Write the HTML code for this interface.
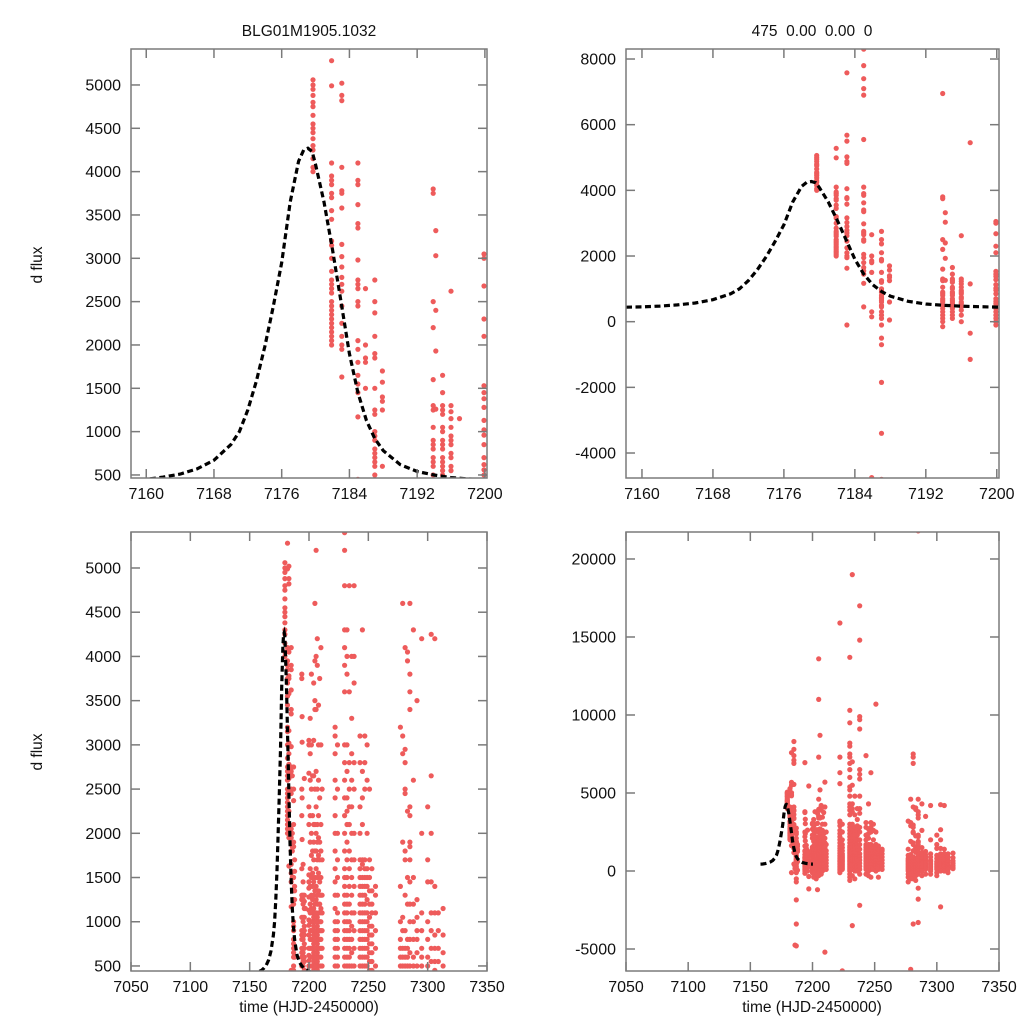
<!DOCTYPE html>
<html><head><meta charset="utf-8">
<style>
html,body{margin:0;padding:0;background:#fff;width:1024px;height:1024px;overflow:hidden;}
svg{display:block;font-family:"Liberation Sans",sans-serif;}
</style></head>
<body>
<svg id="chart" width="1024" height="1024" viewBox="0 0 1024 1024" xmlns="http://www.w3.org/2000/svg">
<rect width="1024" height="1024" fill="#fff"/>
<text x="309" y="36" text-anchor="middle" font-size="15.5" fill="#111">BLG01M1905.1032</text>
<text x="812" y="36" text-anchor="middle" font-size="15.5" fill="#111" xml:space="preserve">475  0.00  0.00  0</text>
<text transform="translate(42,265) rotate(-90)" text-anchor="middle" font-size="15.5" fill="#111">d flux</text>
<text transform="translate(42,752) rotate(-90)" text-anchor="middle" font-size="15.5" fill="#111">d flux</text>
<text x="309" y="1012" text-anchor="middle" font-size="15.5" fill="#111">time (HJD-2450000)</text>
<text x="812" y="1012" text-anchor="middle" font-size="15.5" fill="#111">time (HJD-2450000)</text>
</svg>
<script>
// model curve
const modelTimes = [7158.2,7160,7162,7164,7166,7168,7170,7171,7172,7173,7174,7175,7176,7177,7178,7178.6,7179.1,7179.6,7180,7181,7182,7183,7184,7185,7186,7187,7188,7190,7192,7194,7196,7198,7200,7200.3];
const modelFlux  = [440,450,475,510,570,670,850,1000,1250,1580,1980,2440,2950,3650,4120,4250,4270,4230,4080,3650,3100,2500,1900,1450,1130,920,780,620,540,500,470,455,445,440];

// observations: night times and fluxes per night
const obsTimes = [7179.7,7181.9,7183.1,7185.0,7185.9,7187.0,7187.9,7193.9,7194.2,7195.0,7196.0,7197.0,7199.9,
7201,7202,7203,7204,7205,7206,7207,7208,7209,7210,7211,7222,7224,7230,7232,7234,7236,7238,7243,7245,7247,7249,7251,7253,7256,
7277,7279,7281,7283,7285,7288,7291,7295,7300,7303,7306,7309,7313];
const obsFlux = [
[5060,5000,4950,4880,4800,4750,4650,4550,4500,4450,4380,4300,4250,4150,4050,4000],
[5280,4990,4100,3950,3900,3850,3750,3700,3550,3450,3200,3150,3000,2850,2750,2700,2650,2600,2500,2450,2400,2350,2300,2250,2200,2150,2100,2050,2000],
[7580,5680,5500,5020,4880,4820,4050,3780,3750,3580,3160,3020,2900,2780,2700,2620,2450,2250,2100,2000,1950,1630,-100],
[8300,7800,7400,7100,6900,5550,4100,3900,3850,3620,3400,3350,2980,2750,2700,2650,2500,2450,2050,1950,1800,1650,1550,1450,1170,450],
[2650,2000,1850,1800,1500,300,150,-4750],
[2750,2500,2370,2100,1900,1850,1500,1250,1200,1000,950,900,800,750,700,650,600,500,450,300,200,100,-100,-500,-700,-1850,-3400,-4800],
[1700,1570,1400,1350,1250,600,50],
[6950,3800,3750,2500,2200,1600,1300,1250,1050,900,850,800,700,650,600,500,400,300,200,100,0,-150],
[3320,3030,2400,1930,1260],
[1650,1450,1300,1250,1200,1050,1000,900,850,800,700,650,600,550,500,400,300,200,100],
[2620,1300,1230,1150,1050,950,900,850,750,700,600,550,450,350,200,0],
[5450,1150,-350,-1150],
[3050,3000,2680,2300,2100,1530,1450,1380,1280,1130,1020,960,850,700,620,560,500,400,300,200,100,0,-100],
[3300,2900,2600,2200,1900,1600,1400,1200,1100,1000,900,800,700,600,500,400,300,200,100,0,-200,-400],
[3800,3000,2500,2000,1750,1500,1300,1150,1000,900,800,700,600,500,400,300,200,100,0,-100,-300],
[2650,2200,1800,1550,1400,1250,1100,1000,900,800,700,600,500,400,300,200,100,-100,-500],
[3700,3050,2650,2100,1900,1700,1450,1300,1150,1050,950,850,750,650,550,450,350,250,150,50,-200,-1200],
[13600,11000,7300,4600,3950,3500,3400,2500,2100,1800,1500,1350,1200,1100,1000,900,800,700,600,500,400,300,200,0,-300],
[8700,5200,4000,3400,2700,2300,2000,1800,1600,1400,1250,1100,1000,900,800,700,600,500,400,300,200,100,-100],
[4200,3900,2500,2100,1900,1700,1500,1300,1200,1050,950,850,750,650,550,450,350,250,100,-200],
[3450,3000,2600,2200,1950,1750,1550,1350,1200,1100,1000,900,800,700,600,500,400,300,200,0],
[3750,2400,1900,1700,1450,1300,1200,1100,1000,900,800,700,600,500,400,300,200,100],
[5700,4100,3000,2100,1800,1500,1300,1150,1000,900,800,700,600,500,400,300,200,-5200],
[2500,1700,1300,1100,900,700,500,300,100],
[15900,7300,6300,5600,3200,3100,2900,2600,2400,2200,2000,1800,1600,1450,1300,1150,1000,900,800,700,600,500,400,300,200,100,0,-100],
[3000,2500,2000,1700,1500,1300,1100,1000,900,800,700,600,500,400,300,200,100,-6400],
[13700,10300,9500,8200,8000,7500,7300,6900,6500,6000,5400,5200,4800,4300,4100,3900,3600,3000,2800,2600,2400,2200,2000,1800,1600,1500,1400,1300,1200,1100,1000,900,800,700,600,500,400,300,200,100,0,-200,-400,-600],
[19000,7000,5500,4300,4000,3800,3000,2700,2400,2250,2100,1900,1700,1500,1300,1200,1100,1000,900,800,700,600,500,400,300,100,-300,-3500],
[4800,3600,2800,2500,2300,2100,1800,1600,1400,1200,1000,900,800,700,600,500,400,200,0,-500],
[4000,3300,2900,2600,2300,2000,1700,1500,1300,1100,950,800,650,500,350,200,0],
[17000,14800,9900,9700,9100,6500,6200,5900,4800,4000,3700,2800,2500,2000,1700,1400,1100,900,700,500,300,100,-200,-2200],
[7400,3100,2800,2300,2000,1700,1600,1500,1400,1300,1200,1100,1000,900,800,700,600,500,400,300,200,100,-200],
[4300,2700,2400,2100,1700,1650,1500,1400,1300,1200,1100,1000,900,800,700,600,500,400,300,200,0,-300],
[6300,3100,2800,2500,1700,1600,1500,1400,1300,1200,1100,1000,900,800,700,600,500,400,300,200,100,-400],
[3000,2600,2000,1600,1500,1400,1250,1100,1000,900,800,700,600,500,400,300,200,100],
[10700,2500,1700,1500,1350,1200,1050,950,850,750,650,550,450,350,250,150,0],
[1600,1350,1200,1100,950,850,750,650,550,450,350,250,100,-400],
[1400,1300,1100,900,700,500,300,100],
[3200,1400,1000,800,700,600,500,400,300,200,100,0,-200,-400,-700],
[4600,3100,2900,1900,1050,900,700,600,500,400,300,200,100,0,-200,-500,-6300],
[7500,7300,6900,4100,2950,2800,2500,2450,1800,1700,1300,900,700,600,500,400,300,200,100,0,-100,-300,-500,-3400],
[4050,3950,2250,1500,1200,800,700,600,500,400,300,200,100,0,-300,-600],
[4600,3800,3600,3400,2300,2200,1900,1850,1700,1450,1200,1000,800,650,500,400,300,200,100,0,-200,-1100,-1800,-3300,21800],
[4300,2600,1500,1200,1000,800,600,500,400,300,200,100,0,-300],
[3500,1250,1050,900,800,650,500,400,300,200,100,-200],
[4200,2000,1100,900,700,600,500,400,300,200,100,0,-200],
[2300,1700,1450,1000,800,600,500,400,300,200,100,-100,-300],
[4250,2650,2000,1450,1100,900,700,550,400,300,200,0,-2300],
[4200,1400,1100,850,700,550,450,350,250,150,0],
[1100,900,700,550,400,300,200,100,-100],
[1150,850,650,500,350,250,150]
];

// tick labels
const xTicksZoom = [7160,7168,7176,7184,7192,7200];
const xTicksFull = [7050,7100,7150,7200,7250,7300,7350];
const yTicksP1 = [500,1000,1500,2000,2500,3000,3500,4000,4500,5000];
const yTicksP2 = [-4000,-2000,0,2000,4000,6000,8000];
const yTicksP3 = [500,1000,1500,2000,2500,3000,3500,4000,4500,5000];
const yTicksP4 = [-5000,0,5000,10000,15000,20000];

const NS = "http://www.w3.org/2000/svg";
const svg = document.getElementById('chart');
function mk(tag, attrs, parent){
  const e = document.createElementNS(NS, tag);
  for (const k in attrs) e.setAttribute(k, attrs[k]);
  (parent||svg).appendChild(e);
  return e;
}
const panels = [
  {id:'p1', L:131,R:487,T:49,B:478, x0:7158.2,x1:7200.25, y0:465,y1:5415, xt:xTicksZoom, yt:yTicksP1},
  {id:'p2', L:626,R:999,T:49,B:478, x0:7158.2,x1:7200.25, y0:-4761,y1:8305, xt:xTicksZoom, yt:yTicksP2},
  {id:'p3', L:131,R:487,T:532,B:971, x0:7050,x1:7350, y0:443,y1:5407, xt:xTicksFull, yt:yTicksP3},
  {id:'p4', L:626,R:999,T:532,B:971, x0:7050,x1:7350, y0:-6410,y1:21730, xt:xTicksFull, yt:yTicksP4}
];
const defs = mk('defs', {});
panels.forEach(function(p){
  const sx = v => p.L + (v - p.x0) / (p.x1 - p.x0) * (p.R - p.L);
  const sy = v => p.B - (v - p.y0) / (p.y1 - p.y0) * (p.B - p.T);
  const cp = mk('clipPath', {id:'clip-'+p.id}, defs);
  mk('rect', {x:p.L, y:p.T, width:p.R-p.L, height:p.B-p.T}, cp);
  const g = mk('g', {});
  
  
  const pg = mk('g', {'clip-path':'url(#clip-'+p.id+')', fill:'#ee5b5b'}, g);
  
  
  obsTimes.forEach(function(t, i){
    obsFlux[i].forEach(function(f){
      const c = mk('circle', {cx:sx(t).toFixed(1), cy:sy(f).toFixed(1), r:2.6}, pg);
      
      
    });
  });
  let d = '';
  modelTimes.forEach(function(t, i){ d += (i ? 'L' : 'M') + sx(t).toFixed(1) + ' ' + sy(modelFlux[i]).toFixed(1); });
  const ln = mk('path', {d:d, fill:'none', stroke:'#000', 'stroke-width':3.2, 'stroke-dasharray':'6 3.5', 'clip-path':'url(#clip-'+p.id+')'}, g);
  
  
  const fr = mk('rect', {x:p.L, y:p.T, width:p.R-p.L, height:p.B-p.T, fill:'none', stroke:'#7a7a7a', 'stroke-width':1.5}, g);
  
  
  p.xt.forEach(function(v){
    const x = sx(v);
    mk('line', {x1:x, x2:x, y1:p.B, y2:p.B-9, stroke:'#7a7a7a', 'stroke-width':1.5}, g);
    mk('line', {x1:x, x2:x, y1:p.T, y2:p.T+9, stroke:'#7a7a7a', 'stroke-width':1.5}, g);
    const tx = mk('text', {x:x, y:p.B+21, 'text-anchor':'middle', 'font-size':16, fill:'#111'}, g);
    tx.textContent = v;
    
    
  });
  p.yt.forEach(function(v){
    const y = sy(v);
    mk('line', {x1:p.L, x2:p.L+9, y1:y, y2:y, stroke:'#7a7a7a', 'stroke-width':1.5}, g);
    mk('line', {x1:p.R, x2:p.R-9, y1:y, y2:y, stroke:'#7a7a7a', 'stroke-width':1.5}, g);
    const ty = mk('text', {x:p.L-10, y:y+5.5, 'text-anchor':'end', 'font-size':16, fill:'#111'}, g);
    ty.textContent = v;
    
    
  });
});
</script>
</body></html>
